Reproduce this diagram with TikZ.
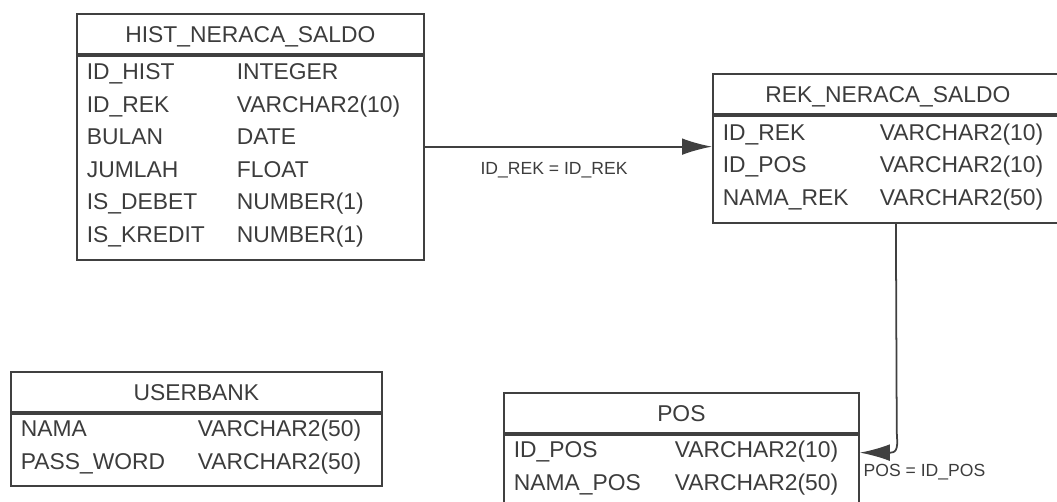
\documentclass[tikz,border=0pt]{standalone}
\usepackage{fontspec}
\setmainfont{Liberation Sans}
\usepackage{tikz}
\usetikzlibrary{arrows.meta,positioning,calc}
\definecolor{Ink}{HTML}{3C3C3C}
\definecolor{Edge}{HTML}{404040}
\newcommand{\tblfont}{\fontsize{19.5pt}{27.7pt}\selectfont}
\newcommand{\lblfont}{\fontsize{15pt}{18pt}\selectfont}
\newcommand{\fields}[2]{\noindent\raisebox{0pt}[\height][\dimexpr\depth+1.8mm\relax]{\begin{tabular}{@{}p{#1}@{}l@{}}#2\end{tabular}}}

\begin{document}
\begin{tikzpicture}[>={Latex[length=9mm,width=5mm]},
  tblhead/.style={draw=Edge,line width=1.5pt,anchor=north west,inner sep=0pt,minimum height=1.2cm,text height=14pt,text depth=0pt,font=\tblfont,text=Ink},
  tblbody/.style={draw=Edge,line width=1.5pt,inner xsep=3mm,inner ysep=0pt,align=left,font=\tblfont,text=Ink},
  fk/.style={->,draw=Edge,line width=1.5pt},
  lbl/.style={font=\lblfont,text=Ink,inner sep=0pt,text depth=0pt}]
  \clip (0,0) rectangle (31.71,15.03);
  \node[tblhead,minimum width=10.41cm] (hist) at (2.28,14.64) {HIST\_NERACA\_SALDO};
  \node[tblbody,text width=9.81cm,minimum height=6.12cm,below=0pt of hist] (hbody) {\fields{4.5cm}{
    ID\_HIST & INTEGER\\ ID\_REK & VARCHAR2(10)\\ BULAN & DATE\\
    JUMLAH & FLOAT\\ IS\_DEBET & NUMBER(1)\\ IS\_KREDIT & NUMBER(1)}};
  \node[tblhead,minimum width=10.5cm] (rek) at (21.36,12.84) {REK\_NERACA\_SALDO};
  \node[tblbody,text width=9.9cm,minimum height=3.21cm,below=0pt of rek] (rbody) {\fields{4.71cm}{
    ID\_REK & VARCHAR2(10)\\ ID\_POS & VARCHAR2(10)\\ NAMA\_REK & VARCHAR2(50)}};
  \node[tblhead,minimum width=11.13cm] (user) at (0.30,3.90) {USERBANK};
  \node[tblbody,text width=10.53cm,minimum height=2.16cm,below=0pt of user] (ubody) {\fields{5.31cm}{
    NAMA & VARCHAR2(50)\\ PASS\_WORD & VARCHAR2(50)}};
  \node[tblhead,minimum width=10.65cm] (pos) at (15.09,3.27) {POS};
  \node[tblbody,text width=10.05cm,minimum height=2.16cm,below=0pt of pos] (pbody) {\fields{4.83cm}{
    ID\_POS & VARCHAR2(10)\\ NAMA\_POS & VARCHAR2(50)}};
  \draw[fk] ([yshift=3.3mm]hbody.east) -- node[lbl,pos=.45,below=4.4mm] (lblrek) {ID\_REK = ID\_REK} ([yshift=3.3mm]hbody.east -| rbody.west);
  \coordinate (pin) at ([yshift=5.4mm]pbody.east);
  \draw[fk] ([xshift=2.4mm]rbody.south) -- ($(pin)+(1.11,0.66)$) to[out=-90,in=0] ($(pin)+(0.93,0)$) -- (pin)
    node[lbl,anchor=west,xshift=0.9mm,yshift=-5.4mm] (lblpos) {POS = ID\_POS};
\end{tikzpicture}
\end{document}
